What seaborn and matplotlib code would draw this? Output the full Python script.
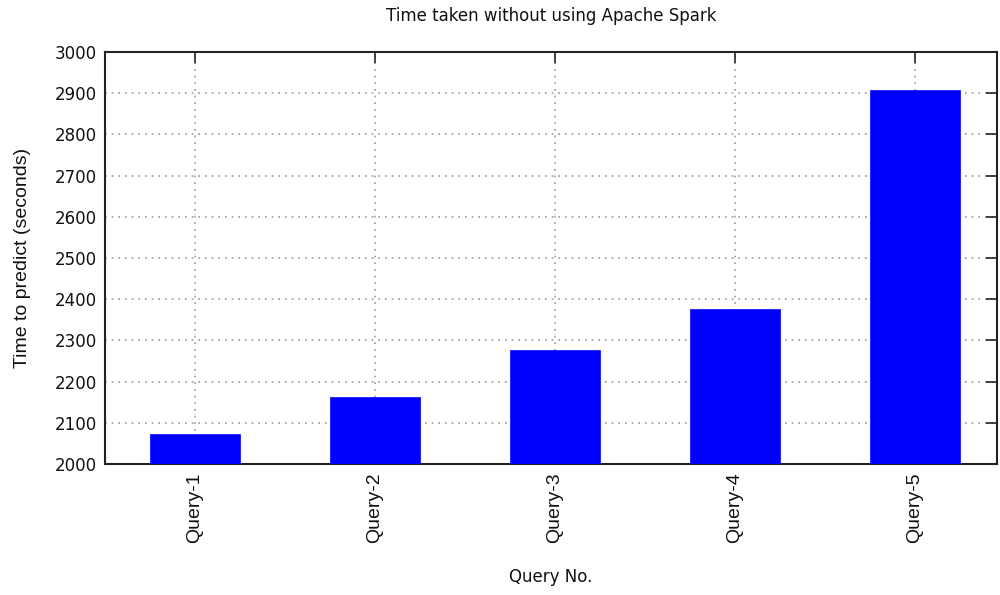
import matplotlib
matplotlib.use("Agg")
import matplotlib.pyplot as plt
import seaborn as sns
import pandas as pd

queries = ["Query-1", "Query-2", "Query-3", "Query-4", "Query-5"]
times = [2072, 2162, 2277, 2377, 2907]
y_ticks = [2000, 2100, 2200, 2300, 2400, 2500, 2600, 2700, 2800, 2900, 3000]

df = pd.DataFrame({"query": queries, "time": times})

sns.set_style("white")
plt.rcParams["text.color"] = "#111111"
plt.rcParams["xtick.color"] = "#111111"
plt.rcParams["ytick.color"] = "#111111"
plt.rcParams["axes.labelcolor"] = "#111111"

fig = plt.figure(figsize=(10, 5.95), dpi=100)
ax = fig.add_axes([0.105, 0.2202, 0.892, 0.6924])

sns.barplot(data=df, x="query", y="time", color="#0000ff", saturation=1,
            width=0.5, ax=ax, zorder=3, edgecolor="#0000ff", linewidth=0.5)

ax.set_ylim(2000, 3000)
ax.set_xlim(-0.5, 4.455)
ax.set_yticks(y_ticks)
ax.set_yticklabels([str(v) for v in y_ticks], family="DejaVu Sans", fontsize=12)
ax.set_xticks(range(len(queries)))
ax.set_xticklabels(queries, rotation=90, family="Liberation Sans", fontsize=14)

ax.grid(True, linestyle=(0, (1, 3)), color="#999999", linewidth=1.2, zorder=0)
ax.set_axisbelow(True)

ax.tick_params(axis="both", direction="in", length=8, width=1.2, color="#222222",
               top=True, right=True, pad=6)
for s in ax.spines.values():
    s.set_visible(True)
    s.set_color("#222222")
    s.set_linewidth(1.5)

ax.set_xlabel("Query No.", family="DejaVu Sans", fontsize=12, labelpad=18)
ax.set_ylabel("Time to predict (seconds)", family="Liberation Sans", fontsize=14, labelpad=17)
ax.set_title("Time taken without using Apache Spark", family="DejaVu Sans", fontsize=12, pad=22)

fig.savefig("out.png", dpi=100, facecolor="white")
